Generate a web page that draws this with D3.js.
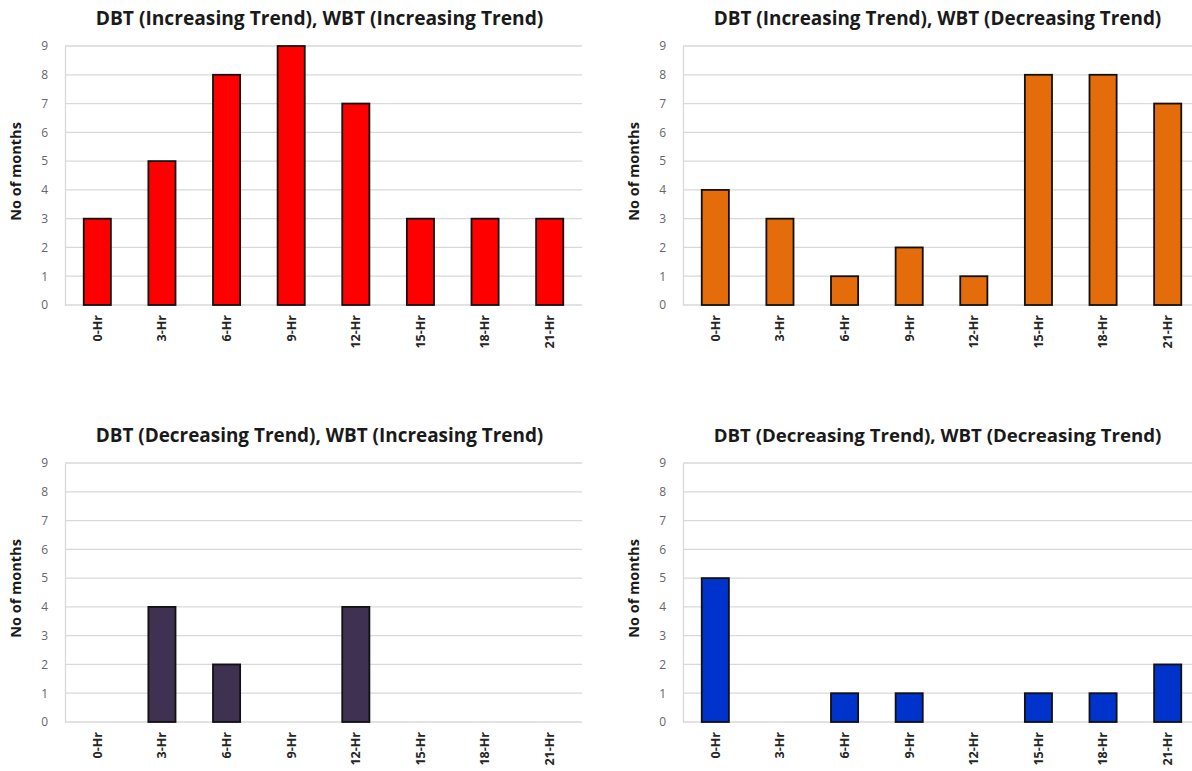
<!DOCTYPE html>
<html>
<head>
<meta charset="utf-8">
<script src="https://cdn.jsdelivr.net/npm/d3@7"></script>
<style>
  body { margin: 0; background: #fff; }
  svg { display: block; }
</style>
</head>
<body>
<svg id="chart" width="1192" height="771"></svg>
<script>
const categories = ["0-Hr", "3-Hr", "6-Hr", "9-Hr", "12-Hr", "15-Hr", "18-Hr", "21-Hr"];
const yTicks = [0, 1, 2, 3, 4, 5, 6, 7, 8, 9];
const titles = [
  "DBT (Increasing Trend), WBT (Increasing Trend)",
  "DBT (Increasing Trend), WBT (Decreasing Trend)",
  "DBT (Decreasing Trend), WBT (Increasing Trend)",
  "DBT (Decreasing Trend), WBT (Decreasing Trend)"
];
const incInc = [3, 5, 8, 9, 7, 3, 3, 3];
const incDec = [4, 3, 1, 2, 1, 8, 8, 7];
const decInc = [0, 4, 2, 0, 4, 0, 0, 0];
const decDec = [5, 0, 1, 1, 0, 1, 1, 2];
const colors = ["#ff0000", "#e46c0a", "#3f3151", "#0033cc"];
const yLabel = "No of months";

const seriesList = [incInc, incDec, decInc, decDec];
const panels = [
  { left: 65, top: 46, width: 517, height: 259, titleY: 25, labelX: 21 },
  { left: 683, top: 46, width: 517, height: 259, titleY: 25, labelX: 639 },
  { left: 65, top: 463, width: 517, height: 259, titleY: 442, labelX: 21 },
  { left: 683, top: 463, width: 517, height: 259, titleY: 442, labelX: 639 }
];

const svg = d3.select("#chart");
const font = "'Open Sans', 'DejaVu Sans', sans-serif";

panels.forEach((p, i) => {
  const data = seriesList[i];
  const x = d3.scaleBand().domain(categories).range([p.left, p.left + p.width]).paddingInner(0.58).paddingOuter(0.29);
  const y = d3.scaleLinear().domain([0, 9]).range([p.top + p.height, p.top]);
  const g = svg.append("g");

  // gridlines
  g.append("g").selectAll("line").data(yTicks).join("line")
    .attr("x1", p.left).attr("x2", p.left + p.width)
    .attr("y1", d => y(d)).attr("y2", d => y(d))
    .attr("stroke", "#d9d9d9").attr("stroke-width", 1.3);

  // y axis
  const ya = g.append("g").attr("transform", `translate(${p.left},0)`)
    .call(d3.axisLeft(y).tickValues(yTicks).tickSize(0).tickPadding(17).tickFormat(d3.format("d")));
  ya.select(".domain").attr("stroke", "#d9d9d9").attr("stroke-width", 1.3);
  ya.selectAll("text").attr("font-family", font).attr("font-size", 12).attr("fill", "#666");

  // bars
  g.append("g").selectAll("rect").data(categories.map((c, k) => ({ c, v: data[k] })).filter(d => d.v > 0)).join("rect")
    .attr("x", d => x(d.c)).attr("width", x.bandwidth())
    .attr("y", d => y(d.v)).attr("height", d => y(0) - y(d.v))
    .attr("fill", colors[i]).attr("stroke", "#111").attr("stroke-width", 1.8);

  // x axis labels
  const xa = g.append("g").attr("transform", `translate(0,${p.top + p.height})`)
    .call(d3.axisBottom(x).tickSize(0));
  xa.select(".domain").remove();
  xa.selectAll("text")
    .attr("font-family", font).attr("font-size", 12.5).attr("font-weight", "bold").attr("fill", "#262626")
    .attr("transform", "rotate(-90)")
    .attr("text-anchor", "end").attr("dx", "-10px").attr("dy", "0.35em").attr("x", 0).attr("y", 0);

  // title
  const t = g.append("text").text(titles[i])
    .attr("x", p.left + p.width / 2 - 4).attr("y", p.titleY)
    .attr("text-anchor", "middle").attr("font-family", font).attr("font-weight", "bold")
    .attr("font-size", 17).attr("fill", "#1a1a1a");
  const w = t.node().getComputedTextLength();
  t.attr("font-size", 17 * 448 / w);

  // y label
  g.append("text").text(yLabel)
    .attr("transform", `translate(${p.labelX},${p.top + p.height / 2 - 4}) rotate(-90)`)
    .attr("text-anchor", "middle").attr("font-family", font).attr("font-weight", "bold")
    .attr("font-size", 14.5).attr("fill", "#1a1a1a");
});
</script>
</body>
</html>
